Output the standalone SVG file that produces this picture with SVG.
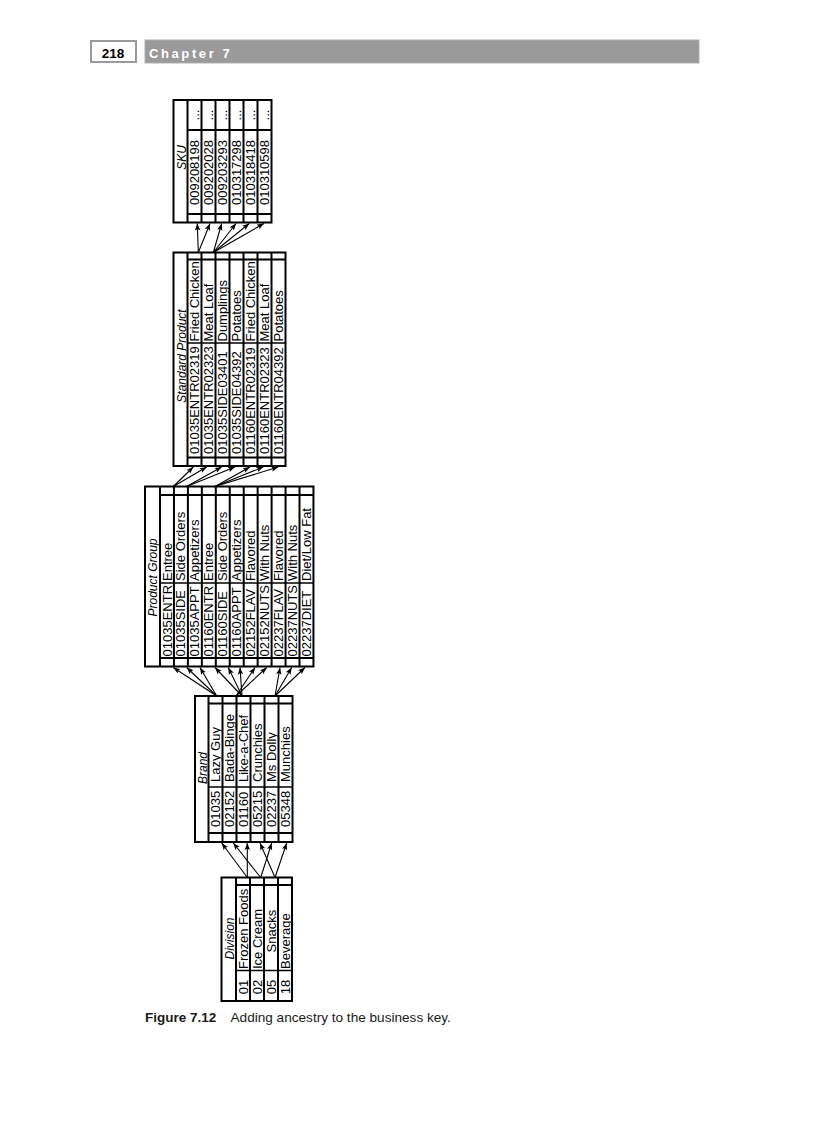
<svg xmlns="http://www.w3.org/2000/svg" width="816" height="1123" viewBox="0 0 816 1123">
<defs>
<marker id="ah" viewBox="-7 -3 7 6" refX="0" refY="0" markerWidth="7" markerHeight="6" markerUnits="userSpaceOnUse" orient="auto">
<path d="M0,0 L-7,-2.7 L-5.5,0 L-7,2.7 Z" fill="#000"/>
</marker>
</defs>
<style>
.box{fill:#fff;stroke:#000;stroke-width:2}
.sep{stroke:#000;stroke-width:2}
.mid{stroke:#000;stroke-width:1.4}
.t{font-family:"Liberation Sans",Arial,sans-serif;font-size:13px;fill:#000}
.m{text-anchor:middle}
.ttl{font-family:"Liberation Sans",Arial,sans-serif;font-size:12px;font-style:italic;text-anchor:middle;fill:#000}
#connectors line{stroke:#000;stroke-width:1.1;marker-end:url(#ah)}
</style>
<rect width="816" height="1123" fill="#fff"/>

<g id="header">
<rect x="91" y="41" width="45" height="21" fill="#fff" stroke="#9a9a9a" stroke-width="2"/>
<text x="113" y="57.5" font-family="Liberation Sans,Arial,sans-serif" font-size="13.5" font-weight="bold" text-anchor="middle" fill="#000">218</text>
<rect x="145" y="40" width="554" height="23" fill="#9a9a9a" stroke="#b0b0b0" stroke-width="1"/>
<text x="149" y="57.5" font-family="Liberation Sans,Arial,sans-serif" font-size="13" font-weight="bold" letter-spacing="2.6" fill="#fff">Chapter 7</text>
</g>

<g id="node-sku">
<rect class="box" x="173.5" y="100" width="98" height="122.5"/>
<line class="sep" x1="187.5" y1="100" x2="187.5" y2="222.5"/>
<line class="sep" x1="201.5" y1="100" x2="201.5" y2="222.5"/>
<line class="sep" x1="215.5" y1="100" x2="215.5" y2="222.5"/>
<line class="sep" x1="229.5" y1="100" x2="229.5" y2="222.5"/>
<line class="sep" x1="243.5" y1="100" x2="243.5" y2="222.5"/>
<line class="sep" x1="257.5" y1="100" x2="257.5" y2="222.5"/>
<line class="sep" x1="187.5" y1="130" x2="271.5" y2="130"/>
<line class="sep" x1="187.5" y1="214" x2="271.5" y2="214"/>
<text class="ttl" transform="translate(186,157.5) rotate(-90)">SKU</text>
<text class="t m" transform="translate(199,172.5) rotate(-90)">009208198</text>
<text class="t m" transform="translate(213,172.5) rotate(-90)">009202028</text>
<text class="t m" transform="translate(227,172.5) rotate(-90)">009203293</text>
<text class="t m" transform="translate(241,172.5) rotate(-90)">010317298</text>
<text class="t m" transform="translate(255,172.5) rotate(-90)">010318418</text>
<text class="t m" transform="translate(269,172.5) rotate(-90)">010310598</text>
<text class="t m" transform="translate(199,115) rotate(-90)">...</text>
<text class="t m" transform="translate(213,115) rotate(-90)">...</text>
<text class="t m" transform="translate(227,115) rotate(-90)">...</text>
<text class="t m" transform="translate(241,115) rotate(-90)">...</text>
<text class="t m" transform="translate(255,115) rotate(-90)">...</text>
<text class="t m" transform="translate(269,115) rotate(-90)">...</text>
</g>

<g id="node-standard-product">
<rect class="box" x="173.5" y="252.5" width="112" height="213.5"/>
<line class="sep" x1="187.5" y1="252.5" x2="187.5" y2="466"/>
<line class="sep" x1="201.5" y1="252.5" x2="201.5" y2="466"/>
<line class="sep" x1="215.5" y1="252.5" x2="215.5" y2="466"/>
<line class="sep" x1="229.5" y1="252.5" x2="229.5" y2="466"/>
<line class="sep" x1="243.5" y1="252.5" x2="243.5" y2="466"/>
<line class="sep" x1="257.5" y1="252.5" x2="257.5" y2="466"/>
<line class="sep" x1="271.5" y1="252.5" x2="271.5" y2="466"/>
<line class="sep" x1="187.5" y1="259.5" x2="285.5" y2="259.5"/>
<line class="mid" x1="187.5" y1="343" x2="285.5" y2="343"/>
<line class="sep" x1="187.5" y1="457.5" x2="285.5" y2="457.5"/>
<text class="ttl" transform="translate(186,356) rotate(-90)">Standard Product</text>
<text class="t" transform="translate(199,341.5) rotate(-90)">Fried Chicken</text>
<text class="t" transform="translate(213,341.5) rotate(-90)">Meat Loaf</text>
<text class="t" transform="translate(227,341.5) rotate(-90)">Dumplings</text>
<text class="t" transform="translate(241,341.5) rotate(-90)">Potatoes</text>
<text class="t" transform="translate(255,341.5) rotate(-90)">Fried Chicken</text>
<text class="t" transform="translate(269,341.5) rotate(-90)">Meat Loaf</text>
<text class="t" transform="translate(283,341.5) rotate(-90)">Potatoes</text>
<text class="t" transform="translate(199,454) rotate(-90)">01035ENTR02319</text>
<text class="t" transform="translate(213,454) rotate(-90)">01035ENTR02323</text>
<text class="t" transform="translate(227,454) rotate(-90)">01035SIDE03401</text>
<text class="t" transform="translate(241,454) rotate(-90)">01035SIDE04392</text>
<text class="t" transform="translate(255,454) rotate(-90)">01160ENTR02319</text>
<text class="t" transform="translate(269,454) rotate(-90)">01160ENTR02323</text>
<text class="t" transform="translate(283,454) rotate(-90)">01160ENTR04392</text>
</g>

<g id="node-product-group">
<rect class="box" x="145" y="486.5" width="168.45" height="180"/>
<line class="sep" x1="160" y1="486.5" x2="160" y2="666.5"/>
<line class="sep" x1="173.95" y1="486.5" x2="173.95" y2="666.5"/>
<line class="sep" x1="187.9" y1="486.5" x2="187.9" y2="666.5"/>
<line class="sep" x1="201.85" y1="486.5" x2="201.85" y2="666.5"/>
<line class="sep" x1="215.8" y1="486.5" x2="215.8" y2="666.5"/>
<line class="sep" x1="229.75" y1="486.5" x2="229.75" y2="666.5"/>
<line class="sep" x1="243.7" y1="486.5" x2="243.7" y2="666.5"/>
<line class="sep" x1="257.65" y1="486.5" x2="257.65" y2="666.5"/>
<line class="sep" x1="271.6" y1="486.5" x2="271.6" y2="666.5"/>
<line class="sep" x1="285.55" y1="486.5" x2="285.55" y2="666.5"/>
<line class="sep" x1="299.5" y1="486.5" x2="299.5" y2="666.5"/>
<line class="sep" x1="160" y1="495" x2="313.45" y2="495"/>
<line class="mid" x1="160" y1="583" x2="313.45" y2="583"/>
<line class="sep" x1="160" y1="658" x2="313.45" y2="658"/>
<text class="ttl" transform="translate(156.5,577.5) rotate(-90)">Product Group</text>
<text class="t" transform="translate(171.5,581) rotate(-90)">Entree</text>
<text class="t" transform="translate(185.45,581) rotate(-90)">Side Orders</text>
<text class="t" transform="translate(199.4,581) rotate(-90)">Appetizers</text>
<text class="t" transform="translate(213.35,581) rotate(-90)">Entree</text>
<text class="t" transform="translate(227.3,581) rotate(-90)">Side Orders</text>
<text class="t" transform="translate(241.25,581) rotate(-90)">Appetizers</text>
<text class="t" transform="translate(255.2,581) rotate(-90)">Flavored</text>
<text class="t" transform="translate(269.15,581) rotate(-90)">With Nuts</text>
<text class="t" transform="translate(283.1,581) rotate(-90)">Flavored</text>
<text class="t" transform="translate(297.05,581) rotate(-90)">With Nuts</text>
<text class="t" transform="translate(311,581) rotate(-90)">Diet/Low Fat</text>
<text class="t" transform="translate(171.5,656.5) rotate(-90)">01035ENTR</text>
<text class="t" transform="translate(185.45,656.5) rotate(-90)">01035SIDE</text>
<text class="t" transform="translate(199.4,656.5) rotate(-90)">01035APPT</text>
<text class="t" transform="translate(213.35,656.5) rotate(-90)">01160ENTR</text>
<text class="t" transform="translate(227.3,656.5) rotate(-90)">01160SIDE</text>
<text class="t" transform="translate(241.25,656.5) rotate(-90)">01160APPT</text>
<text class="t" transform="translate(255.2,656.5) rotate(-90)">02152FLAV</text>
<text class="t" transform="translate(269.15,656.5) rotate(-90)">02152NUTS</text>
<text class="t" transform="translate(283.1,656.5) rotate(-90)">02237FLAV</text>
<text class="t" transform="translate(297.05,656.5) rotate(-90)">02237NUTS</text>
<text class="t" transform="translate(311,656.5) rotate(-90)">02237DIET</text>
</g>

<g id="node-brand">
<rect class="box" x="195" y="696" width="97.5" height="146"/>
<line class="sep" x1="208.5" y1="696" x2="208.5" y2="842"/>
<line class="sep" x1="222.5" y1="696" x2="222.5" y2="842"/>
<line class="sep" x1="236.5" y1="696" x2="236.5" y2="842"/>
<line class="sep" x1="250.5" y1="696" x2="250.5" y2="842"/>
<line class="sep" x1="264.5" y1="696" x2="264.5" y2="842"/>
<line class="sep" x1="278.5" y1="696" x2="278.5" y2="842"/>
<line class="sep" x1="208.5" y1="703.5" x2="292.5" y2="703.5"/>
<line class="mid" x1="208.5" y1="787" x2="292.5" y2="787"/>
<line class="sep" x1="208.5" y1="833" x2="292.5" y2="833"/>
<text class="ttl" transform="translate(206.5,768) rotate(-90)">Brand</text>
<text class="t" transform="translate(220,782) rotate(-90)">Lazy Guy</text>
<text class="t" transform="translate(234,782) rotate(-90)">Bada-Binge</text>
<text class="t" transform="translate(248,782) rotate(-90)">Like-a-Chef</text>
<text class="t" transform="translate(262,782) rotate(-90)">Crunchies</text>
<text class="t" transform="translate(276,782) rotate(-90)">Ms Dolly</text>
<text class="t" transform="translate(290,782) rotate(-90)">Munchies</text>
<text class="t" transform="translate(220,827) rotate(-90)">01035</text>
<text class="t" transform="translate(234,827) rotate(-90)">02152</text>
<text class="t" transform="translate(248,827) rotate(-90)">01160</text>
<text class="t" transform="translate(262,827) rotate(-90)">05215</text>
<text class="t" transform="translate(276,827) rotate(-90)">02237</text>
<text class="t" transform="translate(290,827) rotate(-90)">05348</text>
</g>

<g id="node-division">
<rect class="box" x="221.5" y="877.5" width="70.5" height="123.5"/>
<line class="sep" x1="236" y1="877.5" x2="236" y2="1001"/>
<line class="sep" x1="250" y1="877.5" x2="250" y2="1001"/>
<line class="sep" x1="264" y1="877.5" x2="264" y2="1001"/>
<line class="sep" x1="278" y1="877.5" x2="278" y2="1001"/>
<line class="sep" x1="236" y1="885" x2="292" y2="885"/>
<line class="mid" x1="236" y1="970.5" x2="292" y2="970.5"/>
<text class="ttl" transform="translate(233.5,938.5) rotate(-90)">Division</text>
<text class="t" transform="translate(247.5,969) rotate(-90)">Frozen Foods</text>
<text class="t" transform="translate(261.5,969) rotate(-90)">Ice Cream</text>
<text class="t" transform="translate(275.5,952.5) rotate(-90)">Snacks</text>
<text class="t" transform="translate(289.5,969) rotate(-90)">Beverage</text>
<text class="t m" transform="translate(247.5,987) rotate(-90)">01</text>
<text class="t m" transform="translate(261.5,987) rotate(-90)">02</text>
<text class="t m" transform="translate(275.5,987) rotate(-90)">05</text>
<text class="t m" transform="translate(289.5,987) rotate(-90)">18</text>
</g>

<g id="connectors">
<line x1="198.3" y1="252.5" x2="197.3" y2="223.5"/>
<line x1="198.3" y1="252.5" x2="210" y2="223.5"/>
<line x1="213.3" y1="252.5" x2="221.7" y2="223.5"/>
<line x1="213.3" y1="252.5" x2="236" y2="223.5"/>
<line x1="213.3" y1="252.5" x2="249.3" y2="223.5"/>
<line x1="213.3" y1="252.5" x2="264" y2="223.5"/>

<line x1="173.3" y1="486.5" x2="193.3" y2="467"/>
<line x1="173.3" y1="486.5" x2="206.7" y2="467"/>
<line x1="186.7" y1="486.5" x2="221.7" y2="467"/>
<line x1="186.7" y1="486.5" x2="235" y2="467"/>
<line x1="215" y1="486.5" x2="250" y2="467"/>
<line x1="215" y1="486.5" x2="263.3" y2="467"/>
<line x1="215" y1="486.5" x2="278.3" y2="467"/>

<line x1="216.7" y1="696" x2="173.3" y2="667.5"/>
<line x1="216.7" y1="696" x2="186.7" y2="667.5"/>
<line x1="216.7" y1="696" x2="200" y2="667.5"/>
<line x1="242" y1="696" x2="215" y2="667.5"/>
<line x1="242" y1="696" x2="228.3" y2="667.5"/>
<line x1="242" y1="696" x2="240" y2="667.5"/>
<line x1="236" y1="696" x2="255" y2="667.5"/>
<line x1="236" y1="696" x2="266.7" y2="667.5"/>
<line x1="275" y1="696" x2="280" y2="667.5"/>
<line x1="275" y1="696" x2="291.7" y2="667.5"/>
<line x1="275" y1="696" x2="305" y2="667.5"/>

<line x1="247.3" y1="877.5" x2="221.7" y2="843"/>
<line x1="247.3" y1="877.5" x2="247.3" y2="843"/>
<line x1="260.7" y1="877.5" x2="233.3" y2="843"/>
<line x1="260.7" y1="877.5" x2="271.7" y2="843"/>
<line x1="275" y1="877.5" x2="260" y2="843"/>
<line x1="275" y1="877.5" x2="286.7" y2="843"/>
</g>

<g id="caption">
<text x="145" y="1022" font-family="Liberation Sans,Arial,sans-serif" font-size="13.5" font-weight="bold" fill="#1a1a1a">Figure 7.12</text>
<text x="230.5" y="1022" font-family="Liberation Sans,Arial,sans-serif" font-size="13.6" fill="#1a1a1a">Adding ancestry to the business key.</text>
</g>
</svg>
